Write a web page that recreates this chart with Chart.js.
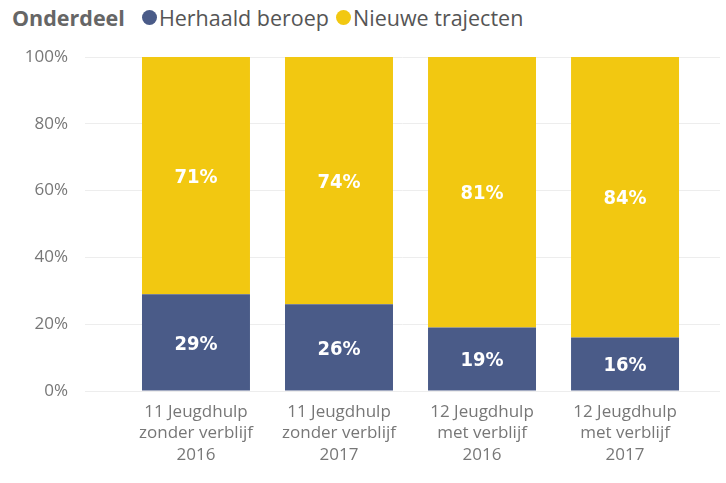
<!DOCTYPE html>
<html>
<head>
<meta charset="utf-8">
<script src="https://cdn.jsdelivr.net/npm/chart.js@4"></script>
<style>
  html, body { margin: 0; padding: 0; background: #fff; }
  #wrap { position: relative; width: 726px; height: 483px; }
  #legend {
    position: absolute; left: 12px; top: 3px;
    font-family: "Open Sans", sans-serif; font-size: 21.5px; color: #555;
    display: flex; align-items: center; white-space: nowrap;
  }
  #legend b { color: #666; font-weight: 700; margin-right: 17px; }
  #legend .dot { display: inline-block; width: 15px; height: 15px; border-radius: 50%; margin-right: 2px; }
  #legend .item { display: flex; align-items: center; margin-right: 7px; }
  canvas { position: absolute; left: 0; top: 0; }
</style>
</head>
<body>
<div id="wrap">
  <div id="legend"><b>Onderdeel</b></div>
  <canvas id="chart" width="726" height="483"></canvas>
</div>
<script>
// categories and series
const categories = [
  ['11 Jeugdhulp', 'zonder verblijf', '2016'],
  ['11 Jeugdhulp', 'zonder verblijf', '2017'],
  ['12 Jeugdhulp', 'met verblijf', '2016'],
  ['12 Jeugdhulp', 'met verblijf', '2017']
];
const herhaaldBeroep = [29, 26, 19, 16];
const nieuweTrajecten = [71, 74, 81, 84];
const yTicks = [0, 20, 40, 60, 80, 100];

const BLUE = '#4a5b88';
const YELLOW = '#f2c811';

// build the html legend
const legendEl = document.getElementById('legend');
[['Herhaald beroep', BLUE], ['Nieuwe trajecten', YELLOW]].forEach(([name, col]) => {
  const it = document.createElement('span');
  it.className = 'item';
  it.innerHTML = `<span class="dot" style="background:${col}"></span>${name}`;
  legendEl.appendChild(it);
});

const toPoints = arr => arr.map((v, i) => ({ x: i, y: v }));

// white labels in the middle of every segment
const segmentLabels = {
  id: 'segmentLabels',
  afterDatasetsDraw(chart) {
    const ctx = chart.ctx;
    ctx.save();
    ctx.fillStyle = '#fff';
    ctx.font = 'bold 20px "DejaVu Sans Condensed", sans-serif';
    ctx.textAlign = 'center';
    ctx.textBaseline = 'middle';
    chart.data.datasets.forEach((ds, di) => {
      chart.getDatasetMeta(di).data.forEach((bar, i) => {
        const mid = (bar.y + bar.base) / 2;
        ctx.fillText(ds.data[i].y + '%', bar.x, mid + 2);
      });
    });
    ctx.restore();
  }
};

new Chart(document.getElementById('chart'), {
  type: 'bar',
  data: {
    datasets: [
      { label: 'Herhaald beroep', data: toPoints(herhaaldBeroep), backgroundColor: BLUE },
      { label: 'Nieuwe trajecten', data: toPoints(nieuweTrajecten), backgroundColor: YELLOW }
    ]
  },
  options: {
    responsive: false,
    animation: false,
    layout: { padding: { top: 57, right: 6, left: 0, bottom: 0 } },
    plugins: { legend: { display: false }, tooltip: { enabled: false } },
    datasets: { bar: { barPercentage: 0.755, categoryPercentage: 1 } },
    scales: {
      x: {
        type: 'linear',
        stacked: true,
        offset: false,
        min: -0.776,
        max: 3.664,
        afterBuildTicks: s => { s.ticks = categories.map((c, i) => ({ value: i })); },
        afterFit: s => { s.height = 92; },
        grid: { display: false },
        border: { display: false },
        ticks: {
          autoSkip: false,
          maxRotation: 0,
          padding: 2,
          color: '#777',
          font: { family: '"Open Sans", sans-serif', size: 17, lineHeight: 1.28 },
          callback: v => categories[v]
        }
      },
      y: {
        stacked: true,
        min: 0,
        max: 100,
        afterBuildTicks: s => { s.ticks = yTicks.map(v => ({ value: v })); },
        afterFit: s => { s.width = 85; },
        grid: { color: '#ededed', drawTicks: false },
        border: { display: false },
        ticks: {
          padding: 17,
          color: '#777',
          font: { family: '"Open Sans", sans-serif', size: 17 },
          callback: v => v + '%'
        }
      }
    }
  },
  plugins: [segmentLabels]
});
</script>
</body>
</html>
